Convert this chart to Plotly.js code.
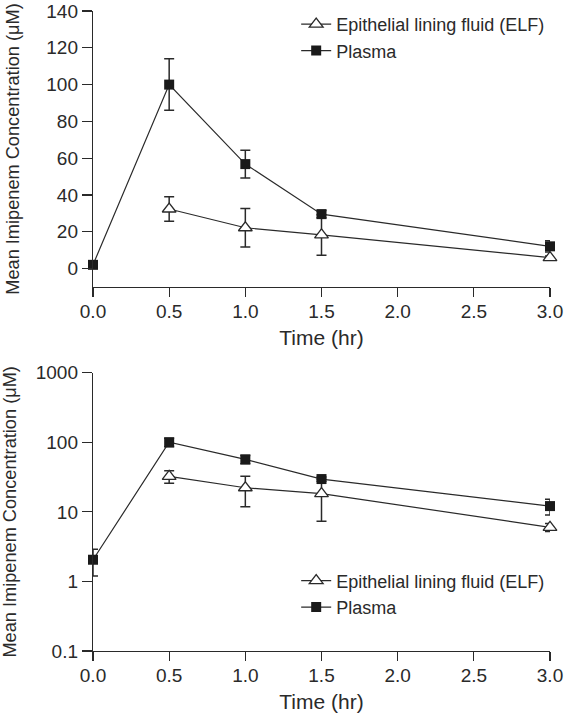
<!DOCTYPE html>
<html>
<head>
<meta charset="utf-8">
<script src="https://cdn.plot.ly/plotly-3.0.1.min.js"></script>
<style>html,body{margin:0;padding:0;background:#fff;}#chart{width:566px;height:716px;}</style>
</head>
<body>
<div id="chart"></div>
<script>
// Data
const plasmaTime = [0, 0.5, 1.0, 1.5, 3.0];
const plasmaConc = [2.05, 100, 56.8, 29.6, 12.1];
const plasmaErr  = [0.85, 14, 7.5, 2, 3.1];
const elfTime = [0.5, 1.0, 1.5, 3.0];
const elfConc = [32.4, 22.2, 18.3, 6.0];
const elfErr  = [6.6, 10.4, 11, 0.8];
const xTicks = [0, 0.5, 1.0, 1.5, 2.0, 2.5, 3.0];
const xTickText = ['0.0','0.5','1.0','1.5','2.0','2.5','3.0'];
const yLinTicks = [0, 20, 40, 60, 80, 100, 120, 140];
const yLogTicks = [0.1, 1, 10, 100, 1000];
const yLogText = ['0.1','1','10','100','1000'];

const ink = '#2a2a2a';
const fam = '"Liberation Sans", Arial, Helvetica, sans-serif';
const tickFont = {family: fam, size: 19, color: ink};
const xTitleFont = {family: fam, size: 21, color: ink};
const yTitleFont = {family: fam, size: 18.2, color: ink};
const legFont = {family: fam, size: 18, color: ink};

function elfTrace(xa, ya, leg) {
  return {
    x: elfTime, y: elfConc, xaxis: xa, yaxis: ya, legend: leg,
    name: 'Epithelial lining fluid (ELF)', type: 'scatter', mode: 'lines+markers',
    line: {color: ink, width: 1.2},
    marker: {symbol: 'triangle-up', size: 12, color: '#ffffff', line: {width: 1.3, color: ink}},
    error_y: {type: 'data', array: elfErr, visible: true, color: ink, thickness: 1.5, width: 5},
    cliponaxis: false
  };
}
function plasmaTrace(xa, ya, leg) {
  return {
    x: plasmaTime, y: plasmaConc, xaxis: xa, yaxis: ya, legend: leg,
    name: 'Plasma', type: 'scatter', mode: 'lines+markers',
    line: {color: ink, width: 1.2},
    marker: {symbol: 'square', size: 10, color: '#1a1a1a'},
    error_y: {type: 'data', array: plasmaErr, visible: true, color: ink, thickness: 1.5, width: 5},
    cliponaxis: false
  };
}

const traces = [
  elfTrace('x', 'y', 'legend'),
  plasmaTrace('x', 'y', 'legend'),
  elfTrace('x2', 'y2', 'legend2'),
  plasmaTrace('x2', 'y2', 'legend2')
];

const xBase = {
  range: [0, 3], tickvals: xTicks, ticktext: xTickText,
  showline: true, linecolor: ink, linewidth: 1.2,
  ticks: 'outside', ticklen: 9, tickwidth: 1.2, tickcolor: ink,
  ticklabelstandoff: -2,
  showgrid: false, zeroline: false, tickfont: tickFont,
  title: {text: 'Time (hr)', font: xTitleFont, standoff: 9}
};
const yBase = {
  showline: true, linecolor: ink, linewidth: 1.2,
  ticks: 'outside', ticklen: 10, tickwidth: 1.2, tickcolor: ink,
  showgrid: false, zeroline: false, tickfont: tickFont
};

const layout = {
  width: 566, height: 716,
  margin: {l: 93, r: 16, t: 0, b: 65},
  paper_bgcolor: '#fff', plot_bgcolor: '#fff',
  font: tickFont,
  xaxis: Object.assign({}, xBase, {domain: [0, 1], anchor: 'y'}),
  yaxis: Object.assign({}, yBase, {domain: [0.55914, 0.98310], anchor: 'x', range: [-10, 140], tickvals: yLinTicks,
    title: {text: 'Mean Imipenem Concentration (μM)', font: yTitleFont, standoff: 22}}),
  xaxis2: Object.assign({}, xBase, {domain: [0, 1], anchor: 'y2'}),
  yaxis2: Object.assign({}, yBase, {domain: [0, 0.42750], anchor: 'x2', type: 'log', range: [-1, 3], tickvals: yLogTicks, ticktext: yLogText,
    title: {text: 'Mean Imipenem Concentration (μM)', font: yTitleFont, standoff: 14}}),
  legend: {x: 0.4446, y: 0.9908, xanchor: 'left', yanchor: 'top', bgcolor: 'rgba(0,0,0,0)', font: legFont, tracegroupgap: 0, itemwidth: 30},
  legend2: {x: 0.4446, y: 0.136, xanchor: 'left', yanchor: 'top', bgcolor: 'rgba(0,0,0,0)', font: legFont, tracegroupgap: 0, itemwidth: 30},
  showlegend: true
};

Plotly.newPlot('chart', traces, layout, {displayModeBar: false, staticPlot: true});
</script>
</body>
</html>
